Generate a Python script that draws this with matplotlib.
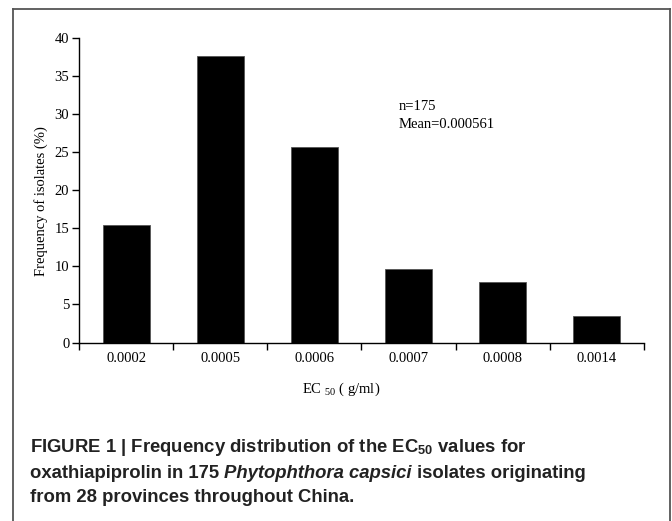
import matplotlib
matplotlib.use("Agg")
import matplotlib.pyplot as plt
from matplotlib.lines import Line2D
import numpy as np

categories = ["0.0002", "0.0005", "0.0006", "0.0007", "0.0008", "0.0014"]
frequency = [15.43, 37.71, 25.71, 9.71, 8.0, 3.43]
y_ticks = [0, 5, 10, 15, 20, 25, 30, 35, 40]

plt.rcParams['mathtext.fontset'] = 'custom'
plt.rcParams['mathtext.rm'] = 'Liberation Serif'
plt.rcParams['mathtext.bf'] = 'Liberation Sans:bold'
plt.rcParams['mathtext.it'] = 'Liberation Serif:italic'

W, H = 672, 521
fig = plt.figure(figsize=(W/100, H/100), dpi=100)
ax = fig.add_axes([79/W, 1-342.5/H, (644-79)/W, (342.5-38.3)/H])

x = np.arange(len(categories))
ax.bar(x, frequency, width=0.5, color='black', edgecolor='#555555', linewidth=0.6)
ax.set_xlim(-0.5, len(categories)-0.5)
ax.set_ylim(0, 40)
ax.set_yticks(y_ticks)
ax.set_xticks(x)
ax.set_xticklabels(categories)
ax.set_xticks(np.arange(-0.5, len(categories), 1.0), minor=True)
ax.tick_params(axis='x', which='major', length=0, pad=7)
ax.tick_params(axis='x', which='minor', length=5, direction='out', width=1)
ax.tick_params(axis='y', length=5, direction='out', width=1, pad=2)
for lab in ax.get_xticklabels() + ax.get_yticklabels():
    lab.set_fontfamily('Liberation Serif')
    lab.set_fontsize(10.5)
ax.spines['top'].set_visible(False)
ax.spines['right'].set_visible(False)
for s in ['left', 'bottom']:
    ax.spines[s].set_linewidth(1)

ax.set_ylabel("Frequency of isolates (%)", fontfamily='Liberation Serif', fontsize=10.5)
ax.yaxis.set_label_coords(-0.055, 0.465)
fig.text(341/W, 1-389/H, "EC $_{50}$ ( g/ml)", fontfamily='Liberation Serif', fontsize=10.5,
         ha='center', va='center')

fig.text(399/W, 1-107/H, "n=175", fontfamily='Liberation Serif', fontsize=10.5, ha='left', va='center')
fig.text(399/W, 1-125/H, "Mean=0.000561", fontfamily='Liberation Serif', fontsize=10.5, ha='left', va='center')

# border
col = '#555555'
fig.add_artist(Line2D([13/W, 13/W], [0, 1-9/H], color=col, lw=1.3, transform=fig.transFigure))
fig.add_artist(Line2D([670/W, 670/W], [0, 1-9/H], color=col, lw=1.3, transform=fig.transFigure))
fig.add_artist(Line2D([13/W, 670/W], [1-9/H, 1-9/H], color=col, lw=1.3, transform=fig.transFigure))

# caption with mixed styles
cap_col = '#222222'
lines = [
    [("FIGURE 1 | Frequency distribution of the EC$_{\\mathbf{50}}$ values for", 'normal')],
    [("oxathiapiprolin in 175 ", 'normal'), ("Phytophthora capsici", 'italic'), (" isolates originating", 'normal')],
    [("from 28 provinces throughout China.", 'normal')],
]
ys = [448, 473, 497]
fig.canvas.draw()
renderer = fig.canvas.get_renderer()
for pieces, yy in zip(lines, ys):
    xpos = 30
    for txt, style in pieces:
        t = fig.text(xpos/W, 1-yy/H, txt, fontfamily='Liberation Sans', fontweight='bold',
                     fontstyle=style, fontsize=13.3, color=cap_col, ha='left', va='center')
        bb = t.get_window_extent(renderer=renderer)
        xpos = bb.x1

fig.savefig("out.png", dpi=100)
